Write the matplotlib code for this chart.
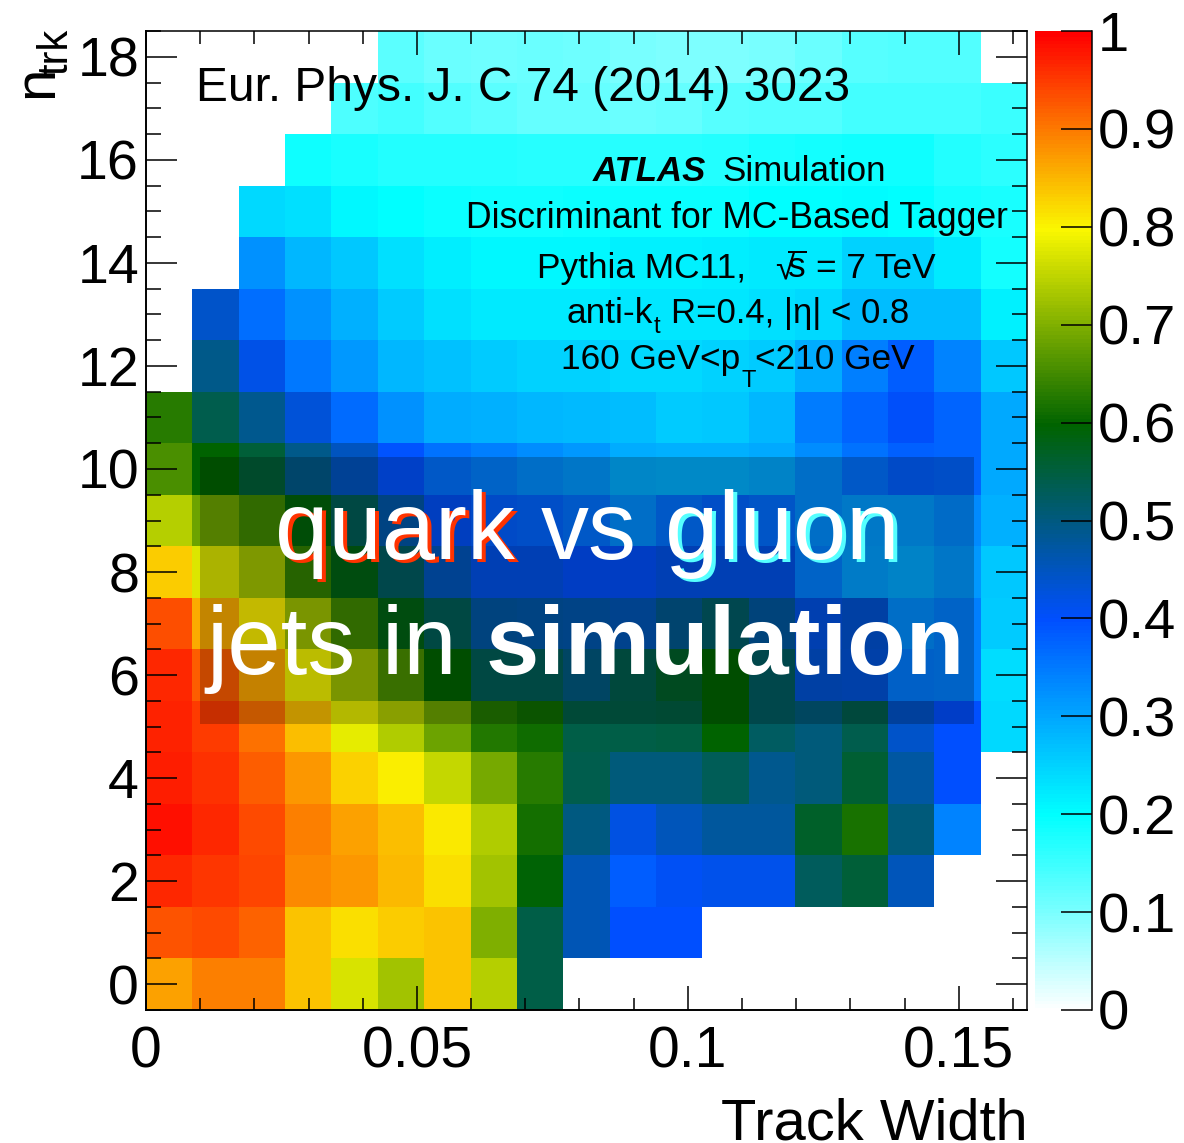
import numpy as np
import matplotlib
matplotlib.use("Agg")
import matplotlib.pyplot as plt
from matplotlib.colors import LinearSegmentedColormap
from matplotlib.patches import Rectangle
from matplotlib.ticker import MultipleLocator

plt.rcParams['font.family'] = ['Liberation Sans', 'DejaVu Sans']
plt.rcParams['mathtext.fontset'] = 'custom'
plt.rcParams['mathtext.rm'] = 'Liberation Sans'
plt.rcParams['mathtext.it'] = 'Liberation Sans:italic'
plt.rcParams['mathtext.bf'] = 'Liberation Sans:bold'

n = np.nan
row_00 = [.87,.895,.895,.84,.77,.73,.84,.745,.545,n,n,n,n,n,n,n,n,n,n]
row_01 = [.93,.94,.92,.84,.82,.835,.84,.70,.545,.46,.40,.40,n,n,n,n,n,n,n]
row_02 = [.965,.955,.945,.89,.875,.85,.82,.73,.595,.46,.385,.41,.415,.415,.53,.555,.455,n,n]
row_03 = [.985,.965,.94,.895,.87,.845,.81,.74,.615,.50,.425,.455,.48,.48,.57,.62,.505,.34,n]
row_04 = [.975,.96,.925,.875,.83,.805,.755,.695,.63,.54,.505,.505,.535,.49,.505,.56,.475,.40,n]
row_05 = [.97,.95,.91,.845,.785,.74,.685,.625,.61,.545,.545,.55,.60,.525,.505,.54,.445,.40,.245]
row_06 = [.965,.925,.865,.79,.725,.66,.60,.535,.535,.50,.54,.57,.60,.525,.435,.43,.35,.345,.24]
row_07 = [.935,.86,.805,.725,.65,.585,.535,.475,.47,.465,.46,.49,.52,.48,.425,.435,.33,.345,.26]
row_08 = [.835,.775,.73,.64,.585,.525,.455,.42,.42,.405,.405,.42,.42,.42,.345,.31,.30,.32,.265]
row_09 = [.745,.685,.65,.59,.535,.47,.41,.38,.375,.36,.33,.36,.375,.365,.33,.315,.315,.335,.29]
row_10 = [.66,.60,.555,.495,.45,.395,.36,.345,.33,.32,.295,.29,.29,.30,.33,.36,.38,.375,.30]
row_11 = [.63,.54,.49,.43,.37,.325,.295,.29,.285,.28,.275,.26,.265,.285,.35,.375,.405,.375,.30]
row_12 = [n,.495,.42,.355,.32,.285,.27,.26,.25,.25,.245,.245,.25,.26,.295,.345,.385,.34,.265]
row_13 = [n,.445,.365,.325,.29,.26,.235,.225,.225,.225,.23,.23,.23,.235,.245,.275,.275,.275,.215]
row_14 = [n,n,.325,.285,.265,.235,.22,.21,.21,.21,.215,.215,.22,.225,.225,.25,.25,.225,.185]
row_15 = [n,n,.245,.235,.21,.20,.195,.19,.19,.195,.195,.195,.195,.20,.20,.205,.20,.185,.18]
row_16 = [n,n,n,.19,.18,.175,.175,.175,.17,.17,.17,.17,.175,.18,.185,.19,.19,.175,.165]
row_17 = [n,n,n,n,.14,.145,.135,.125,.12,.12,.115,.12,.13,.135,.135,.145,.145,.145,.155]
row_18 = [n,n,n,n,n,.125,.115,.11,.115,.11,.105,.10,.10,.105,.115,.13,.135,.135,n]

rows = [row_00,row_01,row_02,row_03,row_04,row_05,row_06,row_07,row_08,row_09,
        row_10,row_11,row_12,row_13,row_14,row_15,row_16,row_17,row_18]

x_major = [0, 0.05, 0.1, 0.15]
x_labels = ['0', '0.05', '0.1', '0.15']
y_major = [0, 2, 4, 6, 8, 10, 12, 14, 16, 18]
z_major = [0, .1, .2, .3, .4, .5, .6, .7, .8, .9, 1]
z_labels = ['0', '0.1', '0.2', '0.3', '0.4', '0.5', '0.6', '0.7', '0.8', '0.9', '1']
x_max = 0.1626

stops = [(0.0, (1, 1, 1)), (0.1, (.48, 1, 1)), (0.2, (0, 1, 1)), (0.4, (0, .31, 1)),
         (0.5, (0, .35, .51)), (0.6, (0, .39, 0)), (0.8, (.98, .97, 0)), (0.9, (.99, .49, 0)), (1.0, (1, 0, 0))]
cmap = LinearSegmentedColormap.from_list('atlas', stops, N=256)
cmap.set_bad((1, 1, 1, 0))

W, H = 1184, 1143
fig = plt.figure(figsize=(W/100, H/100), dpi=100, facecolor='white')

def fx(x): return x / W
def fy(y): return 1 - y / H

ax = fig.add_axes([fx(146), fy(1010), fx(1027-146), (1010-31)/H])
xe = np.linspace(0, x_max, len(rows[0]) + 1)
ye = np.arange(len(rows) + 1) - 0.5
mesh = ax.pcolormesh(xe, ye, np.array(rows), cmap=cmap, vmin=0, vmax=1, antialiased=False, linewidth=0)
ax.set_xlim(0, x_max)
ax.set_ylim(-0.5, 18.5)
ax.set_xticks(x_major, x_labels)
ax.set_yticks(y_major)
ax.xaxis.set_minor_locator(MultipleLocator(0.01))
ax.yaxis.set_minor_locator(MultipleLocator(0.5))
ax.tick_params(axis='x', which='major', direction='in', top=True, length=17.5, width=1.1, labelsize=41, pad=11)
ax.tick_params(axis='x', which='minor', direction='in', top=True, length=9, width=1.1)
ax.tick_params(axis='y', which='major', direction='in', right=True, length=22, width=1.1, labelsize=40, pad=5)
ax.tick_params(axis='y', which='minor', direction='in', right=True, length=11, width=1.1)
for s in ax.spines.values():
    s.set_linewidth(1.4)
    s.set_zorder(6)
ax.spines['top'].set_linewidth(1.1)
ax.spines['right'].set_linewidth(1.1)

ax.add_patch(Rectangle((fx(200), fy(724)), (974-200)/W, (724-457)/H, transform=fig.transFigure,
                       facecolor='black', alpha=0.22, edgecolor='none', zorder=3))

cax = fig.add_axes([fx(1034.5), fy(1010), fx(1092-1034.5), (1010-31)/H])
cb = fig.colorbar(mesh, cax=cax)
cb.solids.set_edgecolor('face')
cb.outline.set_visible(False)
cax.set_yticks(z_major, z_labels)
cax.tick_params(axis='y', which='major', direction='in', right=True, left=False, length=22, width=1.1, labelsize=40.5, pad=4)
cax.minorticks_off()
cax.plot([1, 1], [0, 1], transform=cax.transAxes, color='black', lw=1.1, clip_on=False, zorder=5)

def put(x, y, s, size, **kw):
    kw.setdefault('color', 'black')
    return fig.text(fx(x), fy(y), s, fontsize=size, ha='left', va='baseline', **kw)

put(196, 101, 'Eur. Phys. J. C 74 (2014) 3023', 34.5)
put(593, 181, 'ATLAS', 25, fontweight='bold', fontstyle='italic')
put(722, 181, 'Simulation', 25.2)
put(466, 228, 'Discriminant for MC-Based Tagger', 25.6)
put(537, 278, 'Pythia MC11,', 25.4)
put(775, 278, '√', 25.4)
put(787, 278, r'$\overline{\mathrm{s}}$', 25.4)
put(816, 278, '= 7 TeV', 25.4)
put(567, 323, 'anti-k', 25.4)
put(654, 333, 't', 17)
put(671, 323, 'R=0.4, |η| < 0.8', 25)
put(561, 369, '160 GeV<p', 25.4)
put(742, 387, 'T', 17)
put(755, 369, '<210 GeV', 25.4)

put(279, 562, 'quark', 69, color='#ff3300')
put(275, 559, 'quark', 69, color='white')
put(541, 559, 'vs', 69, color='white')
put(669, 562, 'gluon', 69, color='#55ffff')
put(665, 559, 'gluon', 69, color='white')
put(206, 674, 'jets in', 69, color='white')
put(486, 674, 'simulation', 69, color='white', fontweight='bold')

fig.text(fx(1028), fy(1140), 'Track Width', fontsize=41.7, ha='right', va='baseline')
fig.text(fx(52), fy(98), 'n', fontsize=42, rotation=90, rotation_mode='anchor', ha='left', va='baseline')
fig.text(fx(67), fy(75), 'trk', fontsize=30, rotation=90, rotation_mode='anchor', ha='left', va='baseline')

fig.savefig('out.png', dpi=100, facecolor='white')
